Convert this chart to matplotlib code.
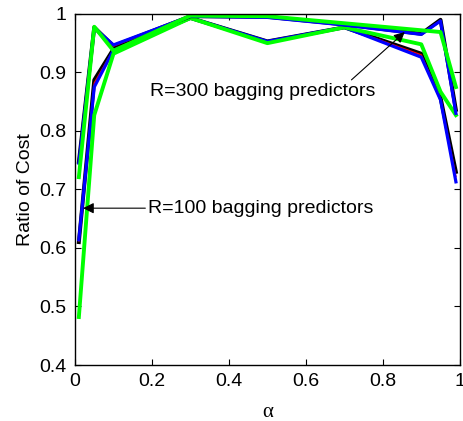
import matplotlib
matplotlib.use('Agg')
import matplotlib.pyplot as plt

plt.rcParams['font.family'] = ['Liberation Sans', 'DejaVu Sans']

alpha = [0.01, 0.05, 0.1, 0.3, 0.5, 0.7, 0.9, 0.95, 0.99]

# R=300 bagging predictors (upper curves)
r300_black = [0.747, 0.977, 0.945, 0.996, 0.995, 0.982, 0.966, 0.990, 0.836]
r300_red = [0.746, 0.976, 0.945, 0.996, 0.995, 0.982, 0.966, 0.989, 0.834]
r300_blue = [0.745, 0.976, 0.947, 0.996, 0.994, 0.981, 0.965, 0.988, 0.830]
r300_green = [0.721, 0.978, 0.937, 0.997, 0.996, 0.984, 0.972, 0.969, 0.875]

# R=100 bagging predictors (lower curves)
r100_black = [0.610, 0.887, 0.940, 0.993, 0.953, 0.977, 0.932, 0.857, 0.730]
r100_red = [0.612, 0.882, 0.939, 0.993, 0.953, 0.977, 0.930, 0.855, 0.722]
r100_blue = [0.614, 0.875, 0.938, 0.993, 0.953, 0.977, 0.926, 0.853, 0.713]
r100_green = [0.482, 0.827, 0.932, 0.993, 0.950, 0.977, 0.948, 0.867, 0.827]

yticks = [0.4, 0.5, 0.6, 0.7, 0.8, 0.9, 1.0]
ytick_labels = ['0.4', '0.5', '0.6', '0.7', '0.8', '0.9', '1']
xticks = [0, 0.2, 0.4, 0.6, 0.8, 1.0]
xtick_labels = ['0', '0.2', '0.4', '0.6', '0.8', '1']

fig = plt.figure(figsize=(4.63, 4.21), dpi=100)
ax = fig.add_axes([0.162, 0.133, 0.831, 0.834])

for blk, red, blu, grn in [(r100_black, r100_red, r100_blue, r100_green),
                           (r300_black, r300_red, r300_blue, r300_green)]:
    ax.plot(alpha, blk, color='black', lw=2.8)
    ax.plot(alpha, red, color='red', lw=1.0)
    ax.plot(alpha, blu, color='#0000ff', lw=2.3)
    ax.plot(alpha, grn, color='#00ff00', lw=2.8)

ax.set_xlim(0, 1)
ax.set_ylim(0.4, 1)
ax.set_xticks(xticks)
ax.set_xticklabels(xtick_labels)
ax.set_yticks(yticks)
ax.set_yticklabels(ytick_labels)
ax.tick_params(direction='in', length=4, width=0.8, labelsize=14,
               top=True, right=True, pad=6)
for s in ax.spines.values():
    s.set_linewidth(1.0)

ax.set_xlabel('α', fontsize=15, labelpad=9, family=['Liberation Serif', 'DejaVu Serif'])
ax.set_ylabel('Ratio of Cost', fontsize=14, labelpad=4)

ax.annotate('R=300 bagging predictors', xy=(0.857, 0.969), xytext=(0.195, 0.868),
            fontsize=14, va='center', ha='left',
            arrowprops=dict(arrowstyle='-|>', color='black', lw=0.8,
                            mutation_scale=16, shrinkA=0, shrinkB=0,
                            relpos=(0.88, 1.0)))
ax.annotate('R=100 bagging predictors', xy=(0.021, 0.668), xytext=(0.19, 0.668),
            fontsize=14, va='center', ha='left',
            arrowprops=dict(arrowstyle='-|>', color='black', lw=0.8,
                            mutation_scale=16, shrinkA=0, shrinkB=0,
                            relpos=(0.0, 0.5)))

fig.savefig('out.png', dpi=100)
